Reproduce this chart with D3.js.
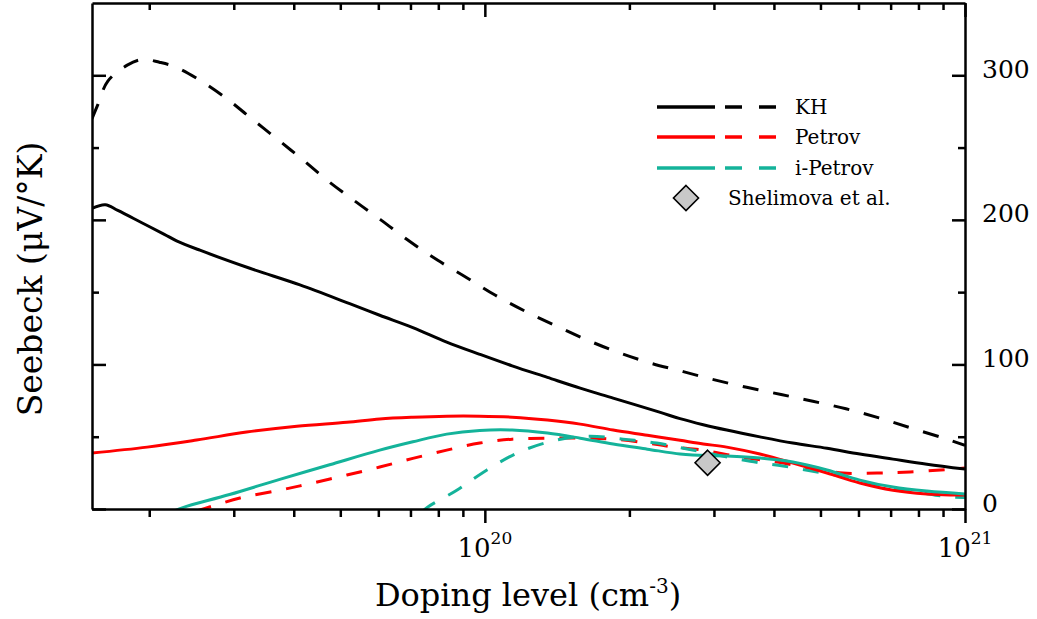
<!DOCTYPE html>
<meta charset="utf-8">
<style>
body { margin: 0; background: #fff; }
svg { display: block; background: #fff; }
.axis path, .axis line { stroke: #000; stroke-width: 2.5px; }
.axis text { fill: #000; }
.curve { fill: none; stroke-width: 3px; }
</style>
<svg width="1037" height="619"></svg>
<script src="https://d3js.org/d3.v7.min.js"></script>
<script>

// doping levels are in units of 1e19 cm^-3, Seebeck in uV/K
var UNIT = 1e19;

var khSolidN = [1.52, 1.62, 1.72, 1.93, 2.15, 2.28, 2.55, 3.24, 4.12, 5.23, 6.04, 7.08, 8.33, 9.76, 11.4, 13.5, 15.8, 18.5, 23.2, 25.5, 28.5, 31.9, 37.4, 43.8, 51.6, 60.4, 70.8, 83.3, 100];
var khSolidS = [208, 210.5, 206.5, 198, 190, 185.5, 179, 166.5, 155, 142, 134, 125.5, 115.5, 107, 99, 91, 83.6, 76.7, 66.8, 62.5, 58.3, 54.6, 49.9, 45.6, 42, 38, 34.5, 31, 27.6];

var khDashN = [1.52, 1.56, 1.64, 1.80, 1.94, 2.10, 2.26, 2.51, 2.87, 3.24, 3.69, 4.16, 4.71, 5.36, 6.07, 6.98, 7.98, 9.17, 10.5, 12.1, 14.0, 16.3, 18.9, 22.1, 25.9, 30.1, 35.3, 41.4, 48.2, 56.5, 66.2, 77.2, 90.4, 100];
var khDashS = [270, 279, 296, 307, 311, 309, 306, 298, 285, 271, 256, 242, 227, 213, 200, 185, 172, 160, 148, 137, 127, 117, 108.5, 101, 95, 89.3, 84, 79.2, 74.5, 69.3, 63, 56, 49, 44];

var petSolidN = [1.52, 1.98, 2.51, 3.19, 4.06, 5.16, 6.04, 7.08, 8.33, 9.76, 11.4, 13.5, 15.8, 18.5, 21.8, 25.5, 28.5, 31.9, 37.4, 43.8, 51.6, 60.4, 70.8, 83.3, 93.0, 100];
var petSolidS = [38.7, 42.8, 47.7, 53.2, 57.3, 60, 62.3, 63.5, 64.2, 64.2, 63.5, 61.5, 58.7, 54.6, 51, 47.5, 45, 42.8, 38, 31.8, 24.9, 18, 13, 10.4, 9.7, 9.7];

var petDashN = [2.5, 2.67, 3.09, 3.74, 4.38, 5.16, 6.04, 7.08, 8.33, 9.76, 11.4, 13.5, 15.8, 18.5, 21.8, 24.6, 28.5, 34.0, 40.6, 47.5, 55.7, 65.6, 76.8, 94.4, 100];
var petDashS = [-1.5, 1.4, 7.6, 13, 18, 23.5, 29, 35, 40.7, 45.6, 48.3, 49, 49, 48.3, 45.6, 43, 40.7, 36, 32.5, 28.3, 24.9, 24.9, 25.6, 27.6, 28.3];

var ipetSolidN = [2.25, 2.35, 2.94, 3.74, 4.75, 6.04, 7.08, 8.33, 9.76, 11.4, 13.5, 15.8, 18.5, 21.8, 25.5, 27.1, 31.9, 37.4, 43.8, 51.6, 60.4, 70.8, 83.3, 100];
var ipetSolidS = [-1.5, 1, 10, 20.5, 30.6, 40.7, 46.5, 51.8, 54.3, 54.6, 52.5, 49, 45, 41.4, 38, 37.3, 36.6, 35.2, 32.5, 27, 20, 15.2, 12.4, 10.4];

var ipetDashN = [7.4, 7.61, 8.74, 10.1, 11.8, 14.1, 16.5, 19.4, 22.8, 26.4, 35.7, 41.8, 49.2, 57.6, 67.5, 79.4, 93.0, 100];
var ipetDashS = [-2, 1.4, 13, 27, 39.4, 47.7, 50.4, 48.3, 45.6, 41.5, 33, 29.7, 25.6, 21.4, 15.2, 11.7, 8.3, 8];

var expN = [29.1];
var expS = [32];

var legendNames = ["KH", "Petrov", "i-Petrov"];
var legendColors = ["#000000", "#ff0000", "#14b39a"];

var svg = d3.select("svg");
var plotL = 92, plotR = 965, plotT = 3, plotB = 509;

var x = d3.scaleLog().domain([1.52 * UNIT, 1e21]).range([plotL, plotR]);
var y = d3.scaleLinear().domain([0, 350]).range([plotB, plotT]);

svg.append("clipPath").attr("id", "plotclip")
  .append("rect").attr("x", plotL).attr("y", plotT)
  .attr("width", plotR - plotL).attr("height", plotB - plotT);

var line = d3.line()
  .x(function(d) { return x(d[0] * UNIT); })
  .y(function(d) { return y(d[1]); })
  .curve(d3.curveCatmullRom.alpha(0.5));

function zip(a, b) { return a.map(function(v, i) { return [v, b[i]]; }); }

var series = [
  { n: petDashN, s: petDashS, c: legendColors[1], dash: true },
  { n: ipetDashN, s: ipetDashS, c: legendColors[2], dash: true },
  { n: khDashN, s: khDashS, c: legendColors[0], dash: true },
  { n: khSolidN, s: khSolidS, c: legendColors[0], dash: false },
  { n: petSolidN, s: petSolidS, c: legendColors[1], dash: false },
  { n: ipetSolidN, s: ipetSolidS, c: legendColors[2], dash: false }
];

var plot = svg.append("g").attr("clip-path", "url(#plotclip)");
series.forEach(function(sr) {
  plot.append("path")
    .attr("class", "curve")
    .attr("d", line(zip(sr.n, sr.s)))
    .attr("stroke", sr.c)
    .attr("stroke-dasharray", sr.dash ? "16,15" : null);
});

// experimental point
svg.selectAll(".exp")
  .data(zip(expN, expS))
  .enter().append("path")
  .attr("class", "exp")
  .attr("d", d3.symbol().type(d3.symbolDiamond2).size(400))
  .attr("transform", function(d) { return "translate(" + x(d[0] * UNIT) + "," + y(d[1]) + ")"; })
  .attr("fill", "#c8c8c8")
  .attr("stroke", "#000")
  .attr("stroke-width", 1.6);

// axes
var xTicks = x.ticks();
function isMajorX(d) { return Math.abs(Math.log10(d) - Math.round(Math.log10(d))) < 1e-6; }

var gBottom = svg.append("g").attr("class", "axis")
  .attr("transform", "translate(0," + plotB + ")")
  .call(d3.axisBottom(x).tickValues(xTicks).tickSizeInner(8).tickSizeOuter(0).tickFormat(""));
gBottom.selectAll(".tick line").attr("y2", function(d) { return isMajorX(d) ? 14 : 8; });

var gTop = svg.append("g").attr("class", "axis")
  .attr("transform", "translate(0," + plotT + ")")
  .call(d3.axisTop(x).tickValues(xTicks).tickSizeInner(-7).tickSizeOuter(0).tickFormat(""));
gTop.selectAll(".tick line").attr("y2", function(d) { return isMajorX(d) ? 14 : 7; });

var yTicks = d3.range(0, 301, 50);

var gLeft = svg.append("g").attr("class", "axis")
  .attr("transform", "translate(" + plotL + ",0)")
  .call(d3.axisLeft(y).tickValues(yTicks).tickSizeInner(-7).tickSizeOuter(0).tickFormat(""));
gLeft.selectAll(".tick line").attr("x2", function(d) { return d % 100 === 0 ? 14 : 7; });

var gRight = svg.append("g").attr("class", "axis")
  .attr("transform", "translate(" + plotR + ",0)")
  .call(d3.axisRight(y).tickValues(yTicks).tickSizeInner(-13).tickSizeOuter(0).tickPadding(17)
    .tickFormat(function(d) { return d % 100 === 0 ? d : ""; }));
gRight.selectAll(".tick line").attr("x2", function(d) { return d % 100 === 0 ? -13 : -7; });
gRight.attr("font-family", "DejaVu Serif").attr("font-size", 25);
gRight.selectAll(".tick text").attr("dy", "0.08em");

// bottom labels 10^20, 10^21
var xLabels = svg.append("g").attr("font-family", "DejaVu Serif").attr("fill", "#000");
xLabels.selectAll("text")
  .data(xTicks.filter(isMajorX))
  .enter().append("text")
  .attr("x", function(d) { return x(d); })
  .attr("y", 557)
  .attr("text-anchor", "middle")
  .attr("font-size", 26)
  .each(function(d) {
    var t = d3.select(this);
    t.append("tspan").text("10");
    t.append("tspan").attr("dy", -13).attr("font-size", 17).text(Math.round(Math.log10(d)));
  });

// axis titles
var xt = svg.append("text")
  .attr("x", 528).attr("y", 606)
  .attr("text-anchor", "middle")
  .attr("font-family", "DejaVu Serif")
  .attr("font-size", 32)
  .text("Doping level (cm");
xt.append("tspan").attr("dy", -13).attr("font-size", 20).text("-3");
xt.append("tspan").attr("dy", 13).text(")");

svg.append("text")
  .attr("transform", "translate(42,279) rotate(-90)")
  .attr("text-anchor", "middle")
  .attr("font-family", "DejaVu Serif")
  .attr("font-size", 33)
  .text("Seebeck (\u03bcV/\u00b0K)");

// legend
var legY = [107, 137, 168];
var leg = svg.append("g").attr("font-family", "DejaVu Serif").attr("font-size", 20);
legendNames.forEach(function(name, i) {
  leg.append("line").attr("x1", 657).attr("x2", 715).attr("y1", legY[i]).attr("y2", legY[i])
    .attr("stroke", legendColors[i]).attr("stroke-width", 3.5);
  leg.append("line").attr("x1", 725).attr("x2", 776).attr("y1", legY[i]).attr("y2", legY[i])
    .attr("stroke", legendColors[i]).attr("stroke-width", 3.5).attr("stroke-dasharray", "17,17");
  leg.append("text").attr("x", 795).attr("y", legY[i]).attr("dy", "0.35em").text(name);
});
leg.append("path")
  .attr("d", d3.symbol().type(d3.symbolDiamond2).size(400))
  .attr("transform", "translate(686,198)")
  .attr("fill", "#c8c8c8").attr("stroke", "#000").attr("stroke-width", 1.6);
leg.append("text").attr("x", 728).attr("y", 198).attr("dy", "0.35em").text("Shelimova et al.");

</script>
